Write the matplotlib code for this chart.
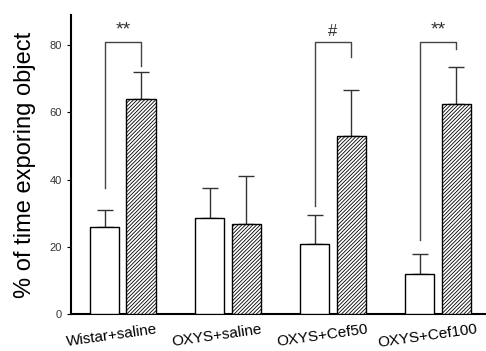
import matplotlib
matplotlib.use("Agg")
import matplotlib.pyplot as plt
import matplotlib.transforms as mtransforms
import numpy as np

plt.rcParams['font.family'] = ['Liberation Sans', 'DejaVu Sans']
plt.rcParams['hatch.linewidth'] = 0.6

groups = ["Wistar+saline", "OXYS+saline", "OXYS+Cef50", "OXYS+Cef100"]
familiar = [25.8, 28.7, 20.7, 11.9]
familiar_err = [5.3, 8.9, 8.9, 6.1]
novel = [64.0, 26.7, 53.0, 62.5]
novel_err = [7.9, 14.4, 13.6, 11.0]

# significance brackets: group index, left start, right start, top, label
sig_groups = [0, 2, 3]
sig_left = [37.4, 32.0, 22.0]
sig_right = [73.9, 76.6, 79.0]
sig_top = [80.9, 80.9, 80.9]
sig_labels = ["**", "#", "**"]

fig = plt.figure(figsize=(4.86, 3.51), dpi=100)
ax = fig.add_axes([71/486, 37/351, 415/486, 299/351])

x = np.arange(len(groups))
w = 0.281
off = 0.174
ax.bar(x - off, familiar, w, color="white", edgecolor="black", linewidth=1.0, zorder=3)
ax.bar(x + off, novel, w, color="white", edgecolor="black", linewidth=1.0,
       hatch="/////////", zorder=3)
ax.errorbar(x - off, familiar, yerr=[np.zeros(4), familiar_err], fmt="none",
            ecolor="#333333", elinewidth=1.0, capsize=6, capthick=1.0, zorder=2)
ax.errorbar(x + off, novel, yerr=[np.zeros(4), novel_err], fmt="none",
            ecolor="#333333", elinewidth=1.0, capsize=6, capthick=1.0, zorder=2)

for g, yl, yr, yt, lab in zip(sig_groups, sig_left, sig_right, sig_top, sig_labels):
    ax.plot([g - off, g - off, g + off, g + off], [yl, yt, yt, yr],
            color="#444444", lw=1.0)
    ax.text(g, yt + 1.0, lab, ha="center", va="bottom",
            fontsize=14 if lab == "**" else 12, color="#333333")

ax.set_xlim(-0.495, 3.457)
ax.set_ylim(0, 89)
ax.set_yticks([0, 20, 40, 60, 80])
ax.tick_params(axis="y", labelsize=8, labelcolor="#333333", length=3, width=0.8)
ax.set_xticks(x)
ax.set_xticklabels(groups, rotation=8, fontsize=11)
ax.tick_params(axis="x", length=0, pad=6)
shift = mtransforms.ScaledTranslation(-11/100, 0, fig.dpi_scale_trans)
for lbl in ax.get_xticklabels():
    lbl.set_transform(lbl.get_transform() + shift)
ax.spines["top"].set_visible(False)
ax.spines["right"].set_visible(False)
ax.spines["left"].set_linewidth(1.5)
ax.spines["bottom"].set_linewidth(1.5)
ax.set_ylabel("% of time exporing object", fontsize=17, labelpad=10)

fig.savefig("out.png", dpi=100)
